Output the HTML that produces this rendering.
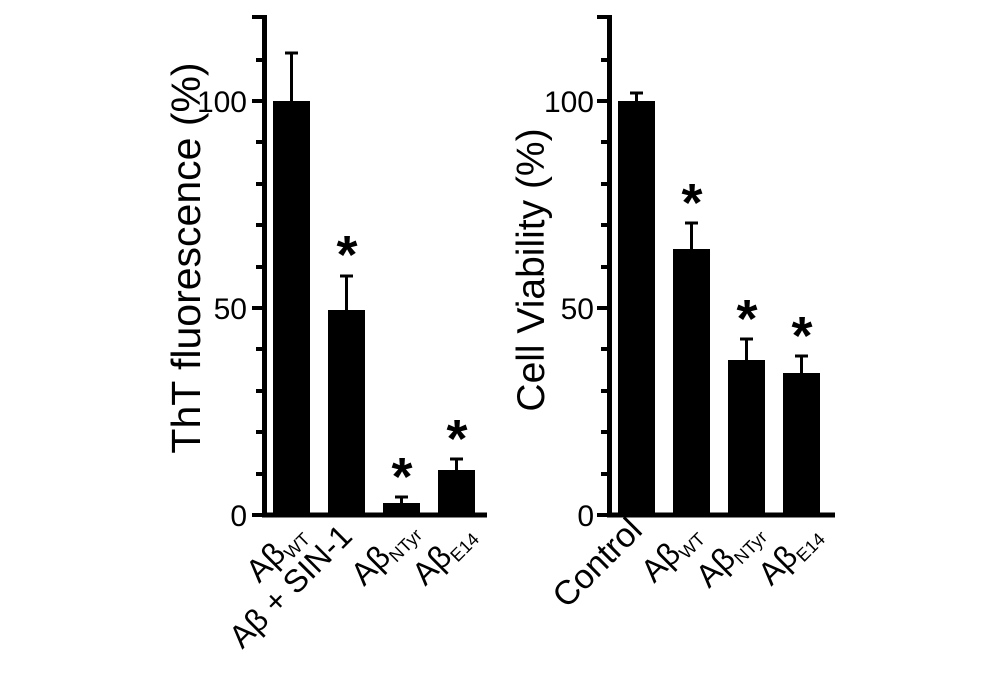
<!DOCTYPE html>
<html><head><style>body{margin:0;background:#fff}svg{display:block}</style></head><body>
<svg width="1000" height="674" viewBox="0 0 1000 674" xmlns="http://www.w3.org/2000/svg" font-family="Liberation Sans, Arial, sans-serif">
<g stroke="#000" fill="none">
<line x1="264.5" y1="15" x2="264.5" y2="517" stroke-width="5"/>
<line x1="262" y1="515" x2="487" y2="515" stroke-width="5"/>
<g stroke-width="4">
<line x1="252" y1="515" x2="264" y2="515"/><line x1="252" y1="308" x2="264" y2="308"/><line x1="252" y1="101" x2="264" y2="101"/><line x1="252" y1="17" x2="264" y2="17"/>
<line x1="256" y1="474" x2="264" y2="474"/><line x1="256" y1="432" x2="264" y2="432"/><line x1="256" y1="391" x2="264" y2="391"/><line x1="256" y1="349" x2="264" y2="349"/>
<line x1="256" y1="267" x2="264" y2="267"/><line x1="256" y1="225" x2="264" y2="225"/><line x1="256" y1="184" x2="264" y2="184"/><line x1="256" y1="142" x2="264" y2="142"/><line x1="256" y1="60" x2="264" y2="60"/>
</g>
<line x1="609.5" y1="15" x2="609.5" y2="517" stroke-width="5"/>
<line x1="607" y1="515" x2="835" y2="515" stroke-width="5"/>
<g stroke-width="4">
<line x1="597" y1="515" x2="609" y2="515"/><line x1="597" y1="308" x2="609" y2="308"/><line x1="597" y1="101" x2="609" y2="101"/><line x1="597" y1="17" x2="609" y2="17"/>
<line x1="601" y1="474" x2="609" y2="474"/><line x1="601" y1="432" x2="609" y2="432"/><line x1="601" y1="391" x2="609" y2="391"/><line x1="601" y1="349" x2="609" y2="349"/>
<line x1="601" y1="267" x2="609" y2="267"/><line x1="601" y1="225" x2="609" y2="225"/><line x1="601" y1="184" x2="609" y2="184"/><line x1="601" y1="142" x2="609" y2="142"/><line x1="601" y1="60" x2="609" y2="60"/>
</g>
<g stroke-width="3">
<line x1="291.5" y1="53" x2="291.5" y2="101"/><line x1="285" y1="53" x2="298" y2="53"/>
<line x1="346.5" y1="276" x2="346.5" y2="310"/><line x1="340" y1="276" x2="353" y2="276"/>
<line x1="401.5" y1="497" x2="401.5" y2="503"/><line x1="395" y1="497" x2="408" y2="497"/>
<line x1="456.5" y1="459" x2="456.5" y2="470"/><line x1="450" y1="459" x2="463" y2="459"/>
<line x1="636.5" y1="93" x2="636.5" y2="101"/><line x1="630" y1="93" x2="643" y2="93"/>
<line x1="691.5" y1="223" x2="691.5" y2="249"/><line x1="685" y1="223" x2="698" y2="223"/>
<line x1="746.5" y1="339" x2="746.5" y2="360"/><line x1="740" y1="339" x2="753" y2="339"/>
<line x1="801.5" y1="356" x2="801.5" y2="373"/><line x1="795" y1="356" x2="808" y2="356"/>
</g>
</g>
<g fill="#000">
<rect x="273" y="101" width="37" height="414"/>
<rect x="328" y="310" width="37" height="205"/>
<rect x="383" y="503" width="37" height="12"/>
<rect x="438" y="470" width="37" height="45"/>
<rect x="618" y="101" width="37" height="414"/>
<rect x="673" y="249" width="37" height="266"/>
<rect x="728" y="360" width="37" height="155"/>
<rect x="783" y="373" width="37" height="142"/>
</g>
<g font-size="30" text-anchor="end">
<text x="247" y="112">100</text><text x="247" y="319">50</text><text x="247" y="526">0</text>
<text x="594" y="112">100</text><text x="594" y="319">50</text><text x="594" y="526">0</text>
</g>
<g font-size="54" font-weight="bold" text-anchor="middle">
<text x="347" y="273">*</text><text x="402" y="495">*</text><text x="457" y="457">*</text>
<text x="692" y="221">*</text><text x="747" y="337">*</text><text x="802" y="354">*</text>
</g>
<text transform="translate(200,258) rotate(-90)" font-size="41" text-anchor="middle">ThT fluorescence (%)</text>
<text transform="translate(544,270) rotate(-90)" font-size="39" text-anchor="middle">Cell Viability (%)</text>
<g font-size="32" text-anchor="end">
<text transform="translate(307,536) rotate(-45)">Aβ<tspan font-size="18" dy="6">WT</tspan></text>
<text transform="translate(354,538) rotate(-45)">Aβ + SIN-1</text>
<text transform="translate(419,532) rotate(-45)">Aβ<tspan font-size="18" dy="6">NTyr</tspan></text>
<text transform="translate(476,536) rotate(-45)">Aβ<tspan font-size="18" dy="6">E14</tspan></text>
<text transform="translate(644,532) rotate(-45)" font-size="34">Control</text>
<text transform="translate(702,536) rotate(-45)">Aβ<tspan font-size="18" dy="6">WT</tspan></text>
<text transform="translate(764,534) rotate(-45)">Aβ<tspan font-size="18" dy="6">NTyr</tspan></text>
<text transform="translate(822,536) rotate(-45)">Aβ<tspan font-size="18" dy="6">E14</tspan></text>
</g>
</svg>
</body></html>
